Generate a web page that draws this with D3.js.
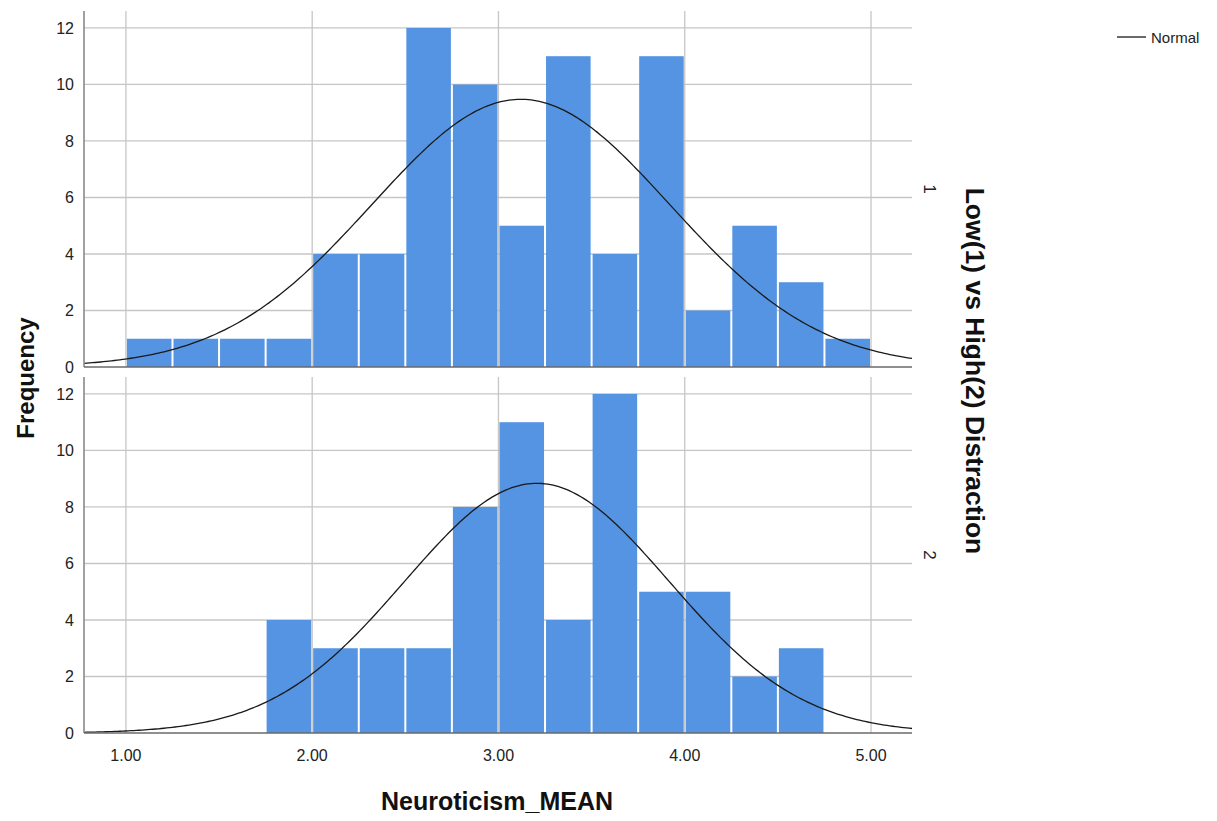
<!DOCTYPE html>
<html>
<head>
<meta charset="utf-8">
<script src="https://cdn.jsdelivr.net/npm/d3@7"></script>
<style>
  html, body { margin: 0; padding: 0; background: #fff; }
  svg { display: block; font-family: "Liberation Sans", Arial, sans-serif; }
</style>
</head>
<body>
<svg id="chart" width="1217" height="821"></svg>
<script>
// ---- data ----
const binStarts = [1.00, 1.25, 1.50, 1.75, 2.00, 2.25, 2.50, 2.75, 3.00, 3.25, 3.50, 3.75, 4.00, 4.25, 4.50, 4.75];
const binWidth = 0.25;
const lowCounts  = [1, 1, 1, 1, 4, 4, 12, 10, 5, 11, 4, 11, 2, 5, 3, 1];
const highCounts = [0, 0, 0, 4, 3, 3, 3, 8, 11, 4, 12, 5, 5, 2, 3, 0];
const groupLabels = ["1", "2"];
const normalMeans = [3.12, 3.206];
const normalSDs   = [0.80, 0.711];
const xTicks = [1, 2, 3, 4, 5];
const yTicks = [0, 2, 4, 6, 8, 10, 12];
const xTitle = "Neuroticism_MEAN";
const yTitle = "Frequency";
const panelTitle = "Low(1) vs High(2) Distraction";
const legendLabel = "Normal";

const svg = d3.select("#chart");
const left = 84, right = 912;
const x = d3.scaleLinear().domain([0.775, 5.22]).range([left, right]);

const panels = [
  { counts: lowCounts,  mean: normalMeans[0], sd: normalSDs[0], top: 11,  base: 367, label: groupLabels[0] },
  { counts: highCounts, mean: normalMeans[1], sd: normalSDs[1], top: 377, base: 733, label: groupLabels[1] }
];

const gridColor = "#c6c6c6";
const barColor = "#5594e2";

panels.forEach((p, pi) => {
  const y = d3.scaleLinear().domain([0, 12.6]).range([p.base, p.top]);
  const g = svg.append("g");

  // horizontal grid
  g.selectAll(".hg").data(yTicks.filter(t => t > 0)).enter().append("line")
    .attr("x1", left).attr("x2", right)
    .attr("y1", d => y(d)).attr("y2", d => y(d))
    .attr("stroke", gridColor).attr("stroke-width", 1.3);
  // vertical grid
  g.selectAll(".vg").data(xTicks).enter().append("line")
    .attr("x1", d => x(d)).attr("x2", d => x(d))
    .attr("y1", p.top).attr("y2", p.base)
    .attr("stroke", gridColor).attr("stroke-width", 1.3);

  // bars
  const bins = binStarts.map((b, i) => ({ x0: b, x1: b + binWidth, n: p.counts[i] })).filter(d => d.n > 0);
  g.selectAll(".bar").data(bins).enter().append("rect")
    .attr("x", d => x(d.x0) + 1)
    .attr("width", d => x(d.x1) - x(d.x0) - 2)
    .attr("y", d => y(d.n))
    .attr("height", d => y(0) - y(d.n))
    .attr("fill", barColor);

  // normal curve
  const N = d3.sum(p.counts);
  const [d0, d1] = x.domain();
  const pts = d3.range(0, 301).map(i => {
    const xv = d0 + (d1 - d0) * i / 300;
    const z = (xv - p.mean) / p.sd;
    return [xv, N * binWidth * Math.exp(-0.5 * z * z) / (p.sd * Math.sqrt(2 * Math.PI))];
  });
  g.append("path")
    .attr("d", d3.line().x(d => x(d[0])).y(d => y(d[1]))(pts))
    .attr("fill", "none").attr("stroke", "#1a1a1a").attr("stroke-width", 1.3);

  // axes lines
  g.append("line").attr("x1", left).attr("x2", left).attr("y1", p.top).attr("y2", p.base)
    .attr("stroke", "#8a8a8a").attr("stroke-width", 1.6);
  g.append("line").attr("x1", left).attr("x2", right).attr("y1", p.base).attr("y2", p.base)
    .attr("stroke", "#6a6a6a").attr("stroke-width", 1.6);

  // y tick labels
  g.selectAll(".yl").data(yTicks).enter().append("text")
    .attr("x", 74).attr("y", d => y(d)).attr("dy", "0.36em")
    .attr("text-anchor", "end").attr("font-size", 16).attr("fill", "#222")
    .text(d => d);

  // panel label
  svg.append("text")
    .attr("transform", `translate(924,${(p.top + p.base) / 2}) rotate(90)`)
    .attr("text-anchor", "middle").attr("font-size", 17).attr("fill", "#222")
    .text(p.label);
});

// x tick labels
svg.selectAll(".xl").data(xTicks).enter().append("text")
  .attr("x", d => x(d)).attr("y", 761)
  .attr("text-anchor", "middle").attr("font-size", 16).attr("fill", "#222")
  .text(d => d3.format(".2f")(d));

// titles
svg.append("text").attr("x", 497).attr("y", 810).attr("text-anchor", "middle")
  .attr("font-size", 25).attr("font-weight", "bold").attr("fill", "#111").text(xTitle);
svg.append("text").attr("transform", "translate(34,378) rotate(-90)").attr("text-anchor", "middle")
  .attr("font-size", 24).attr("font-weight", "bold").attr("fill", "#111").text(yTitle);
svg.append("text").attr("transform", "translate(966,371) rotate(90)").attr("text-anchor", "middle")
  .attr("font-size", 26.5).attr("font-weight", "bold").attr("fill", "#111").text(panelTitle);

// legend
svg.append("line").attr("x1", 1117).attr("x2", 1146).attr("y1", 37).attr("y2", 37)
  .attr("stroke", "#1a1a1a").attr("stroke-width", 1.3);
svg.append("text").attr("x", 1151).attr("y", 43).attr("font-size", 15).attr("fill", "#222")
  .text(legendLabel);
</script>
</body>
</html>
